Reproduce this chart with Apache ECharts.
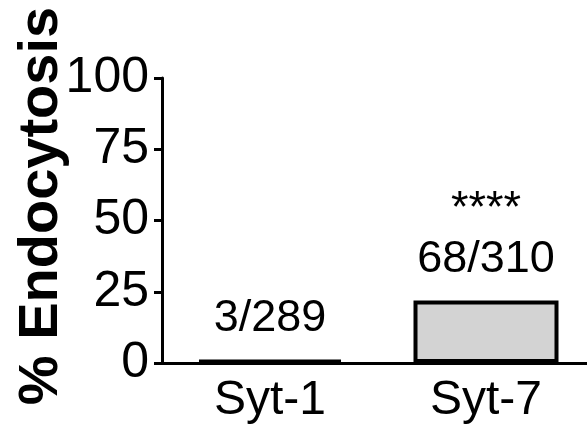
<!DOCTYPE html>
<html>
<head>
<meta charset="utf-8">
<script src="https://cdn.jsdelivr.net/npm/echarts@6/dist/echarts.min.js"></script>
<style>html,body{margin:0;padding:0;background:#fff;}#c{width:587px;height:441px;}</style>
</head>
<body>
<div id="c"></div>
<script>
const categories = ['Syt-1', 'Syt-7'];
const values = [1.04, 21.94];          // % endocytosis (3/289, 68/310)
const counts = ['3/289', '68/310'];
const significance = ['', '****'];
const barColors = ['#000000', '#d3d3d3'];
const yTicks = [0, 25, 50, 75, 100];
const yName = '% Endocytosis';

const chart = echarts.init(document.getElementById('c'), null, {renderer: 'canvas'});
const FONT = "'Liberation Sans', Arial, Helvetica, sans-serif";

chart.setOption({
  backgroundColor: '#ffffff',
  animation: false,
  grid: {left: 162, width: 432, top: 78, bottom: 78, containLabel: false, outerBoundsMode: 'none'},
  xAxis: {
    type: 'category',
    data: categories,
    axisLine: {lineStyle: {color: '#000', width: 3}},
    axisTick: {alignWithLabel: true, length: 9, lineStyle: {color: '#000', width: 3}},
    axisLabel: {color: '#000', fontSize: 48, fontFamily: FONT, margin: 14}
  },
  yAxis: {
    type: 'value',
    min: yTicks[0],
    max: yTicks[yTicks.length - 1],
    interval: yTicks[1] - yTicks[0],
    splitLine: {show: false},
    axisLine: {show: true, lineStyle: {color: '#000', width: 3}},
    axisTick: {show: true, length: 8, lineStyle: {color: '#000', width: 3}},
    axisLabel: {color: '#000', fontSize: 50, fontFamily: FONT, margin: 13}
  },
  graphic: [{
    type: 'text',
    x: 42, y: 206,
    rotation: Math.PI / 2,
    style: {
      text: yName,
      font: "bold 56px " + FONT,
      fill: '#000',
      align: 'center',
      verticalAlign: 'middle'
    }
  }],
  series: [{
    type: 'bar',
    barWidth: 145,
    data: values.map((v, i) => ({
      value: v,
      itemStyle: {color: barColors[i], borderColor: '#000', borderWidth: 4}
    })),
    label: {
      show: true,
      position: 'top',
      distance: 16,
      color: '#000',
      fontSize: 45,
      fontFamily: FONT,
      lineHeight: 50,
      formatter: p => (significance[p.dataIndex] ? significance[p.dataIndex] + '\n' : '') + counts[p.dataIndex]
    }
  }]
});
</script>
</body>
</html>
